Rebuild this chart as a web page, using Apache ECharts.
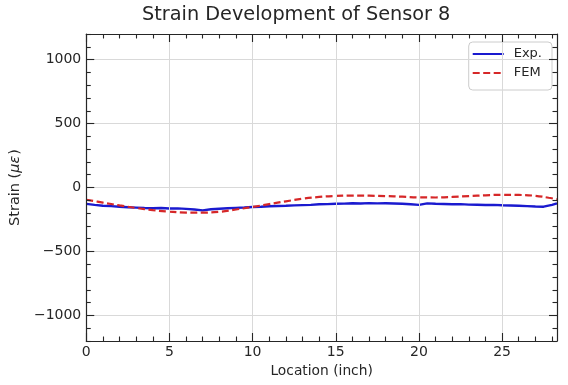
<!DOCTYPE html>
<html>
<head>
<meta charset="utf-8">
<script src="https://cdn.jsdelivr.net/npm/echarts@6/dist/echarts.min.js"></script>
<style>
  html, body { margin: 0; padding: 0; background: #ffffff; }
  #chart { width: 568px; height: 385px; }
</style>
</head>
<body>
<div id="chart"></div>
<script>
// Measured strain along the specimen (Exp.)
const expLoc = [0, 0.5, 1, 1.5, 2, 2.5, 3, 3.5, 4, 4.5, 5, 5.5, 6, 6.5, 7, 7.5, 8, 8.5, 9, 9.5,
  10, 10.5, 11, 11.5, 12, 12.5, 13, 13.5, 14, 14.5, 15, 15.5, 16, 16.5, 17, 17.5, 18, 18.5, 19, 19.5,
  20, 20.5, 21, 21.5, 22, 22.5, 23, 23.5, 24, 24.5, 25, 25.5, 26, 26.5, 27, 27.5, 28, 28.3];
const expStrain = [-128, -136, -143, -146, -151, -154, -157, -160, -162, -160, -164, -163, -167, -172, -179, -170, -166, -162, -159, -156,
  -152, -150, -147, -145, -143, -140, -138, -136, -131, -130, -127, -126, -123, -125, -122, -124, -123, -125, -127, -131,
  -136, -124, -127, -129, -131, -130, -134, -135, -137, -136, -139, -141, -143, -146, -149, -150, -136, -124];

// Finite element prediction (FEM)
const femLoc = [0, 1, 2, 3, 4, 5, 6, 7, 8, 9, 10, 11, 12, 13, 14, 15, 16, 17, 18, 19,
  20, 21, 22, 23, 24, 25, 26, 27, 27.8, 28.3];
const femStrain = [-96, -118, -140, -160, -177, -189, -196, -197, -190, -172, -152, -130, -108, -88, -74, -66, -63, -64, -67, -72,
  -77, -78, -74, -67, -61, -57, -58, -65, -80, -92];

// Tick positions
const xMajorTicks = [0, 5, 10, 15, 20, 25];
const xMinorTicks = [1, 2, 3, 4, 6, 7, 8, 9, 11, 12, 13, 14, 16, 17, 18, 19, 21, 22, 23, 24, 26, 27, 28];
const yMajorTicks = [-1000, -500, 0, 500, 1000];
const yMinorTicks = [-1200, -1100, -900, -800, -700, -600, -400, -300, -200, -100,
  100, 200, 300, 400, 600, 700, 800, 900, 1100, 1200];

const X_MIN = 0, X_MAX = 28.3, Y_MIN = -1200, Y_MAX = 1200;
const FONT = 'DejaVu Sans';
const INK = '#262626';
const EXP_COLOR = '#1a1acf';
const FEM_COLOR = '#d62728';
const minus = v => String(v).replace('-', '\u2212');

// One tick set per axis object, so major and minor ticks can differ in length
function axis(kind, position, ticks, len, opts) {
  const isX = kind === 'x';
  return Object.assign({
    type: 'value',
    position: position,
    min: isX ? X_MIN : Y_MIN,
    max: isX ? X_MAX : Y_MAX,
    axisLine: { show: false, onZero: false },
    axisTick: { show: true, inside: true, length: len, customValues: ticks,
      lineStyle: { color: INK, width: 1.1 } },
    axisLabel: { show: false },
    splitLine: { show: false },
    minorTick: { show: false },
    z: 5
  }, opts || {});
}
const frameLine = { show: true, onZero: false, lineStyle: { color: INK, width: 1.2 } };

const chart = echarts.init(document.getElementById('chart'), null, { renderer: 'canvas' });

chart.setOption({
  animation: false,
  backgroundColor: '#ffffff',
  title: {
    text: 'Strain Development of Sensor 8',
    left: 142, top: 5, padding: 0,
    textStyle: { fontFamily: FONT, fontSize: 19.3, fontWeight: 'normal', color: INK }
  },
  legend: {
    data: [
      { name: 'Exp.', icon: 'path://M0,0H31V2H0Z' },
      { name: 'FEM', icon: 'path://M0,0H7V2H0Z M10.5,0H17.5V2H10.5Z M21,0H28V2H21Z M31,0H31.01V2H31Z' }
    ],
    orient: 'vertical',
    right: 16, top: 42,
    itemWidth: 31, itemHeight: 2.2, itemGap: 3,
    padding: [4, 10, 9, 4],
    borderColor: '#cccccc', borderWidth: 1, borderRadius: 4,
    backgroundColor: 'rgba(255,255,255,0.85)',
    textStyle: { fontFamily: FONT, fontSize: 13, color: INK, padding: [0, 0, 0, 5], lineHeight: 16 }
  },
  grid: { left: 86, right: 11, top: 34, bottom: 44, containLabel: false },
  xAxis: [
    axis('x', 'bottom', xMajorTicks, 8, {
      axisLine: frameLine,
      axisLabel: { show: true, customValues: xMajorTicks, margin: 4, formatter: minus,
        fontFamily: FONT, fontSize: 14, color: INK },
      splitLine: { show: true, lineStyle: { color: '#d9d9d9', width: 1 } },
      name: 'Location (inch)', nameLocation: 'middle', nameGap: 23,
      nameTextStyle: { fontFamily: FONT, fontSize: 13.8, color: INK }
    }),
    axis('x', 'bottom', xMinorTicks, 4.5),
    axis('x', 'top', xMajorTicks, 8, { axisLine: frameLine }),
    axis('x', 'top', xMinorTicks, 4.5)
  ],
  yAxis: [
    axis('y', 'left', yMajorTicks, 8, {
      axisLine: frameLine,
      axisLabel: { show: true, customValues: yMajorTicks, margin: 5, formatter: minus,
        fontFamily: FONT, fontSize: 14, color: INK },
      splitLine: { show: true, lineStyle: { color: '#d9d9d9', width: 1 } },
      name: 'Strain ({i|\u03bc\u03b5})', nameLocation: 'middle', nameGap: 59,
      nameTextStyle: { fontFamily: FONT, fontSize: 14.5, color: INK,
        rich: { i: { fontFamily: FONT, fontSize: 14.5, fontStyle: 'italic', color: INK, padding: [0, 1, 0, 0] } } }
    }),
    axis('y', 'left', yMinorTicks, 4.5),
    axis('y', 'right', yMajorTicks, 8, { axisLine: frameLine }),
    axis('y', 'right', yMinorTicks, 4.5)
  ],
  series: [
    {
      name: 'Exp.', type: 'line', xAxisIndex: 0, yAxisIndex: 0,
      data: expLoc.map((x, i) => [x, expStrain[i]]),
      symbol: 'none', showSymbol: false,
      lineStyle: { color: EXP_COLOR, width: 2.4 },
      itemStyle: { color: EXP_COLOR },
      z: 3
    },
    {
      name: 'FEM', type: 'line', xAxisIndex: 0, yAxisIndex: 0,
      data: femLoc.map((x, i) => [x, femStrain[i]]),
      symbol: 'none', showSymbol: false, smooth: 0.4,
      lineStyle: { color: FEM_COLOR, width: 2.2, type: [7, 3.5] },
      itemStyle: { color: FEM_COLOR },
      z: 4
    }
  ]
});
</script>
</body>
</html>
